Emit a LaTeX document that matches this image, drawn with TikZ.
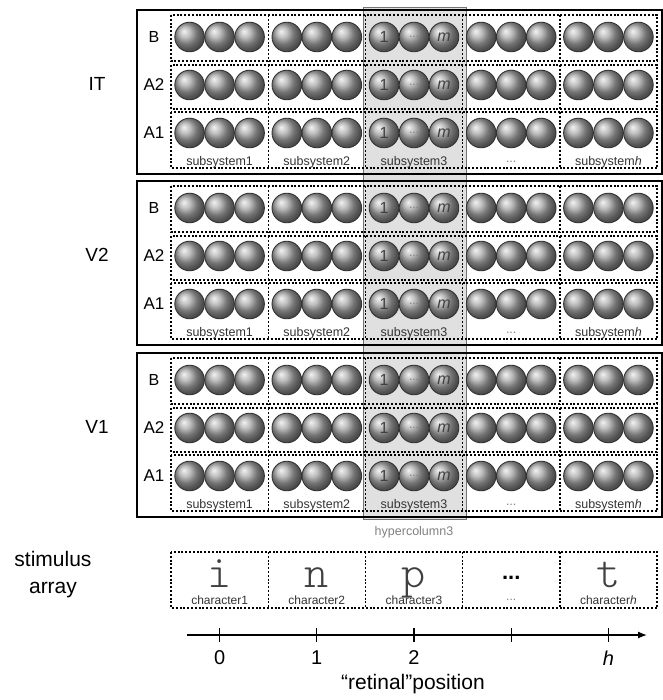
\documentclass[tikz,border=0pt]{standalone}
\usepackage{fontspec}
\setmainfont{Liberation Sans}
\newfontfamily\charfont{Latin Modern Mono Light}
\usetikzlibrary{arrows.meta}
\begin{document}
\begin{tikzpicture}[x=1pt,y=-1pt,
  layerbox/.style={draw=black,line width=1.8pt,minimum width=525pt,minimum height=164pt,anchor=north west,inner sep=0pt},
  dotline/.style={draw=black,line width=1.4pt,dash pattern=on 2pt off 1.8pt},
  sphere/.style={circle,draw=black!80,line width=0.9pt,shading=ball,ball color=gray!68,minimum size=29.6pt,inner sep=0pt,font=\fontsize{16}{16}\selectfont,text=black!75},
  layerlabel/.style={font=\fontsize{19}{19}\selectfont},
  sublabel/.style={font=\fontsize{12.5}{12.5}\selectfont,text=black!80},
  hyper/.style={fill=black!12,draw=black!55,line width=0.6pt,anchor=north west,minimum width=103pt,minimum height=512pt,inner sep=0pt},
  hyperlabel/.style={font=\fontsize{12.5}{12.5}\selectfont,text=black!50},
  bigchar/.style={font=\charfont\fontsize{46}{46}\selectfont,text=black!75,anchor=base},
  charlabel/.style={font=\fontsize{12}{12}\selectfont,text=black!80},
  axislabel/.style={font=\fontsize{20}{20}\selectfont},
  biglabel/.style={font=\fontsize{21}{27}\selectfont,align=center},
  axisline/.style={line width=1.3pt,-{Latex[length=9pt,width=7pt]}},
  tickline/.style={line width=1.3pt}]
\useasboundingbox (0,0) rectangle (662,700);

% hypercolumn background
\node[hyper] (hyper) at (363,7) {};
\node[hyperlabel] (hyperlab) at (414,532) {hypercolumn3};

% layers
\foreach \L/\T in {IT/9,V2/180,V1/352}{
  \node[layerlabel] (lab-\L) at (97,\T+75) {\L};
  \node[layerbox] (box-\L) at (136,\T) {};
  \foreach \r/\yo/\h/\cy/\rf in {B/6/46/28/16,A2/56/44/76/17,A1/103/56/124/17}{
    \draw[dotline] (171,\T+\yo) rectangle (657,\T+\yo+\h);
    \foreach \c in {2,...,5}{
      \pgfmathsetmacro\dx{171+97.2*(\c-1)}
      \draw[dotline] (\dx,\T+\yo) -- (\dx,\T+\yo+\h);
    }
    \node[font=\fontsize{\rf}{\rf}\selectfont] (rl-\L-\r) at (154,\T+\cy) {\r};
    \foreach \c in {1,...,5}{
      \pgfmathsetmacro\cx{171+97.2*(\c-0.5)}
      \foreach \k/\txt in {1/1,2/{{\fontsize{12}{12}\selectfont\color{black!50}...}},3/{\textit{m}}}{
        \node[sphere] (s-\L-\r-\c-\k) at (\cx+30*\k-60,\T+\cy) {\ifnum\c=3 \txt\fi};
      }
    }
  }
  \foreach \c/\s in {1/subsystem1,2/subsystem2,3/subsystem3,4/{\color{black!50}...},5/{subsystem\textit{h}}}{
    \pgfmathsetmacro\cx{171+97.2*(\c-0.5)}
    \node[sublabel] (sub-\L-\c) at (\cx,\T+153) {\s};
  }
}

% stimulus array
\node[biglabel] (stim) at (53,575) {stimulus\\array};
\draw[dotline] (171,552) rectangle (657,608);
\foreach \c in {2,...,5}{
  \pgfmathsetmacro\dx{171+97.2*(\c-1)}
  \draw[dotline] (\dx,552) -- (\dx,608);
}
\foreach \c/\ch/\lab in {1/i/character1,2/n/character2,3/p/character3,5/t/{character\textit{h}}}{
  \pgfmathsetmacro\cx{171+97.2*(\c-0.5)}
  \node[bigchar] (ch-\c) at (\cx,587) {\ch};
  \node[charlabel] (chl-\c) at (\cx,600) {\lab};
}
\node[font=\fontsize{22}{22}\selectfont\bfseries] (ch-4) at (511.2,578) {...};
\node[charlabel,text=black!50] (chl-4) at (511.2,600) {...};

% axis
\coordinate (ax0) at (187,635);
\coordinate (ax1) at (647,635);
\draw[axisline] (ax0) -- (ax1);
\foreach \c/\t in {1/0,2/1,3/2,4/{},5/\textit{h}}{
  \pgfmathsetmacro\cx{171+97.2*(\c-0.5)}
  \coordinate (tk-\c) at (\cx,635);
  \draw[tickline] ([yshift=7pt]tk-\c) -- ([yshift=-7pt]tk-\c);
  \node[axislabel] (tl-\c) at (\cx,658) {\t};
}
\node[biglabel] (retpos) at (413,684) {“retinal”position};
\end{tikzpicture}
\end{document}
